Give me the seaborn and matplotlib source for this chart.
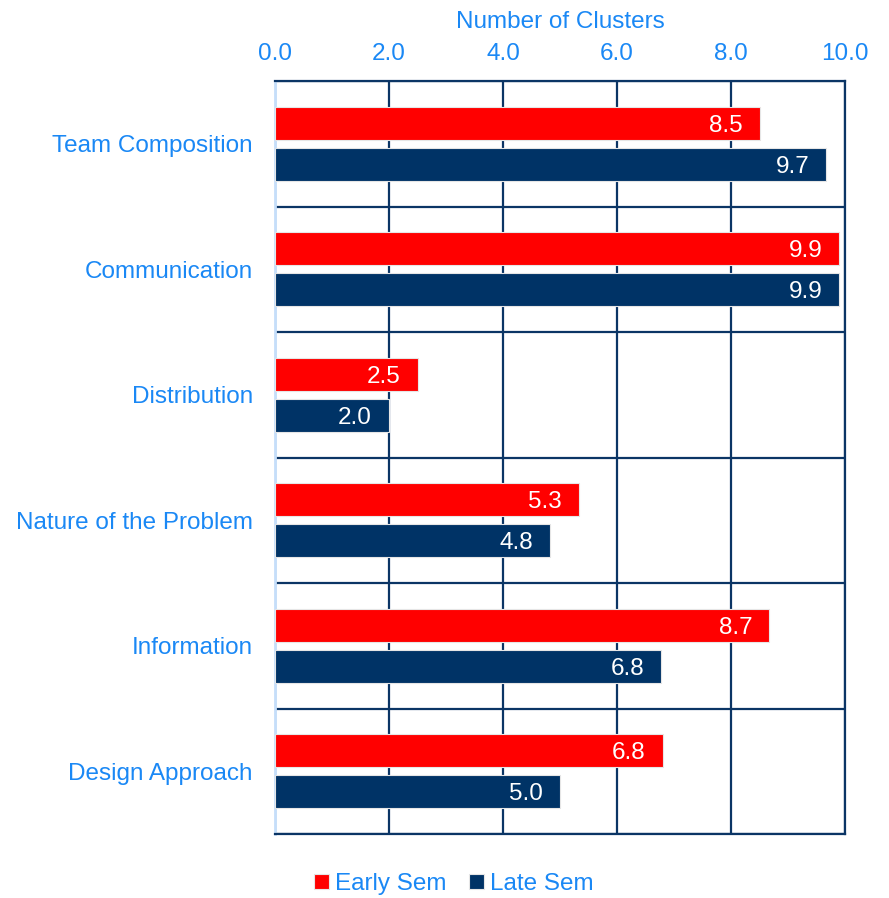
import matplotlib
matplotlib.use("Agg")
import matplotlib.pyplot as plt
import seaborn as sns
import pandas as pd
import numpy as np

categories = ["Team Composition", "Communication", "Distribution",
              "Nature of the Problem", "Information", "Design Approach"]
early_sem = [8.5, 9.9, 2.5, 5.33, 8.67, 6.8]
late_sem = [9.67, 9.9, 2.0, 4.83, 6.77, 5.0]
series_names = ["Early Sem", "Late Sem"]
x_ticks = [0, 2, 4, 6, 8, 10]

TEXT = "#1a88f5"
GRID = "#0b3565"
RED = "#ff0000"
NAVY = "#003366"
FS = 17.5

df = pd.DataFrame({
    "category": categories * 2,
    "value": early_sem + late_sem,
    "series": [series_names[0]] * len(categories) + [series_names[1]] * len(categories),
})

sns.set_theme(style="white")
plt.rcParams["font.family"] = ["Liberation Sans", "DejaVu Sans"]

fig = plt.figure(figsize=(8.89, 8.98), dpi=100)
ax = fig.add_axes([275/889, 1-834/898, (845-275)/889, (834-81)/898])

sns.barplot(data=df, y="category", x="value", hue="series", orient="y",
            palette=[RED, NAVY], saturation=1, width=0.654, gap=0.2, dodge=True,
            edgecolor="#e6e6e6", linewidth=0.8, ax=ax, legend=True, zorder=3)

ax.set_xlim(0, 10)
ax.set_ylim(len(categories) - 0.5, -0.5)
ax.set_xticks(x_ticks)
ax.set_xticklabels([f"{v:.1f}" for v in x_ticks])
ax.xaxis.tick_top()
ax.xaxis.set_label_position("top")
ax.set_xlabel("Number of Clusters", color=TEXT, fontsize=FS, labelpad=11)
ax.set_ylabel("")

ax.set_yticks(np.arange(len(categories)))
ax.set_yticks(np.arange(len(categories) + 1) - 0.5, minor=True)
ax.tick_params(axis="x", which="both", length=0, labelsize=FS, labelcolor=TEXT, pad=11.5)
ax.tick_params(axis="y", which="both", length=0, labelsize=FS, labelcolor=TEXT, pad=16)

ax.grid(False)
ax.grid(axis="x", which="major", color=GRID, linewidth=1.6, zorder=0)
ax.grid(axis="y", which="minor", color=GRID, linewidth=1.6, zorder=0)
ax.set_axisbelow(True)

for side in ["top", "right", "bottom"]:
    ax.spines[side].set_visible(True)
    ax.spines[side].set_color(GRID)
    ax.spines[side].set_linewidth(1.6)
ax.spines["left"].set_color("#c5defa")
ax.spines["left"].set_linewidth(2)

for container in ax.containers:
    for p in container:
        w = p.get_width()
        yc = p.get_y() + p.get_height() / 2
        ax.annotate(f"{w:.1f}", xy=(w, yc), xytext=(-17, 0), textcoords="offset pixels",
                    ha="right", va="center_baseline", color="white", fontsize=FS, zorder=5)

handles, labels = ax.get_legend_handles_labels()
ax.get_legend().remove()
leg = fig.legend(handles, labels, loc="center", bbox_to_anchor=(454/889, 1-884/898),
                 ncol=2, frameon=False, fontsize=FS, handlelength=0.6, handleheight=0.6,
                 handletextpad=0.25, columnspacing=0.95)
for t in leg.get_texts():
    t.set_color(TEXT)

fig.savefig("out.png", dpi=100)
